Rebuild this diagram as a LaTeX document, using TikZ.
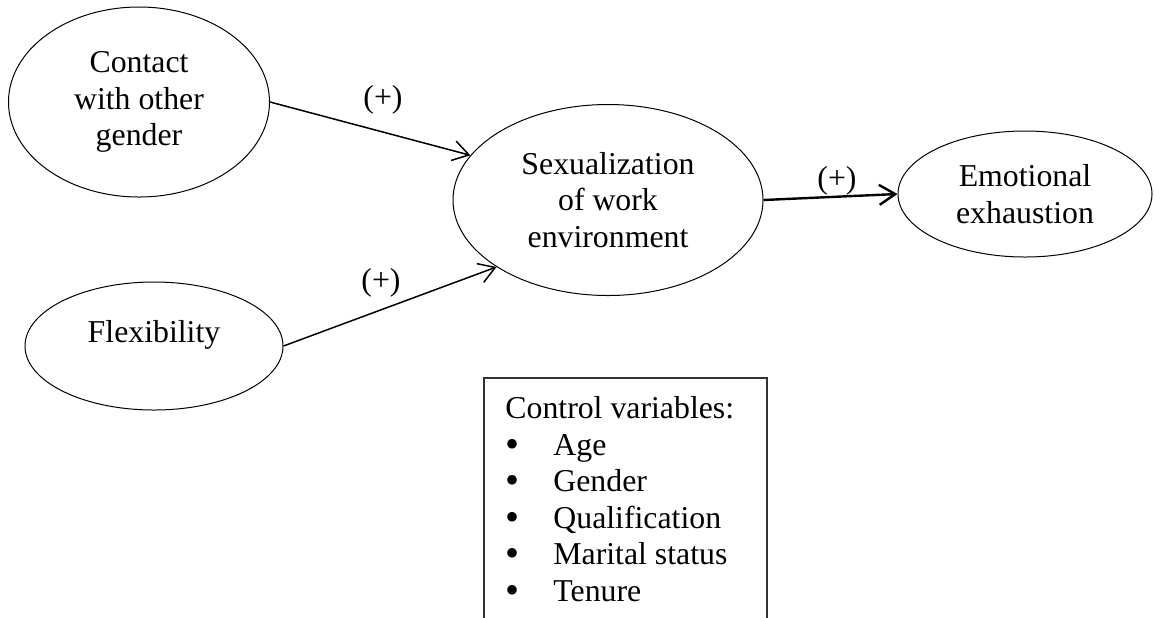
\documentclass[tikz,border=0pt]{standalone}
\usepackage{fontspec}
\setmainfont{Liberation Serif}
\usetikzlibrary{shapes.geometric, arrows.meta, positioning}

\newcommand{\ctrlitem}{\makebox[24pt][l]{{\fontsize{20}{18.3}\selectfont\raisebox{-1pt}{\textbullet}}}}

\begin{document}
\begin{tikzpicture}[x=0.5pt, y=-0.5pt,
  construct/.style={draw, ellipse, line width=0.5pt, inner sep=0pt, align=center, font=\fontsize{15.9}{18.3}\selectfont},
  link/.style={-{Straight Barb[length=8pt, width=10pt]}, line width=0.75pt},
  sign/.style={inner sep=0pt, font=\fontsize{15.9}{18.3}\selectfont}]
  \useasboundingbox (0,0) rectangle (1155,617);

  % Constructs
  \node[construct, minimum width=130.5pt, minimum height=95pt] (contact) at (139,102) {Contact\\with other\\gender};
  \node[construct, minimum width=129pt, minimum height=64pt, text depth=15pt] (flex) at (154,346) {Flexibility};
  \node[construct, minimum width=155pt, minimum height=95.5pt] (sexual) at (608,200) {Sexualization\\of work\\environment};
  \node[construct, minimum width=127pt, minimum height=63pt] (emo) at (1025,194) {Emotional\\exhaustion};

  % Paths
  \draw[link] (contact.east) -- (sexual.162);
  \draw[link] (flex.east) -- (sexual.211);
  \draw[link, line width=1.2pt] (sexual.east) -- (emo.west);

  \node[sign] (plusA) at (383,100) {(+)};
  \node[sign] (plusB) at (381,283) {(+)};
  \node[sign] (plusC) at (837,181) {(+)};

  % Control variables (box runs off the bottom)
  \coordinate (boxsw) at (484,630);
  \coordinate (boxne) at (767,378);
  \draw[line width=0.75pt, black!80] (boxsw) |- (boxne) -- (boxne |- boxsw);
  \node[anchor=north west, inner sep=0pt, align=left, font=\fontsize{15.9}{18.3}\selectfont] (controls) at (505,396) {
    Control variables:\\
    \ctrlitem Age\\
    \ctrlitem Gender\\
    \ctrlitem Qualification\\
    \ctrlitem Marital status\\
    \ctrlitem Tenure
  };
\end{tikzpicture}
\end{document}
